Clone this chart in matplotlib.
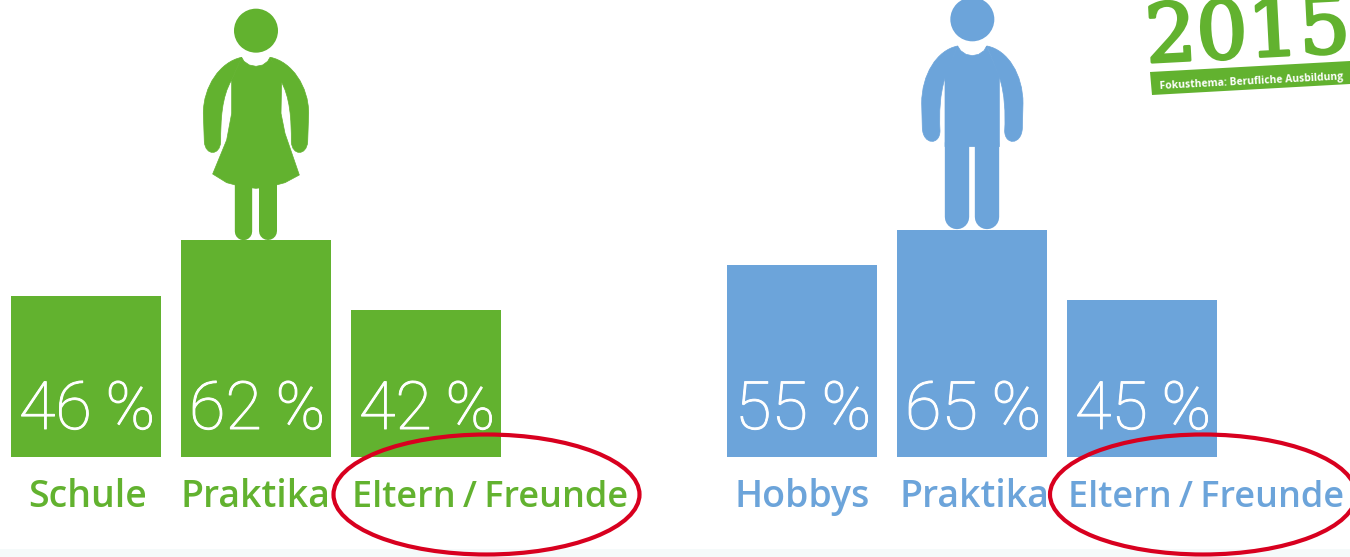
import matplotlib
matplotlib.use("Agg")
import matplotlib.pyplot as plt
import matplotlib.patheffects as pe
from matplotlib.patches import Circle, Ellipse, PathPatch, Polygon, Rectangle
from matplotlib.path import Path

girls_labels = ["Schule", "Praktika", "Eltern\u2009/\u2009Freunde"]
girls_values = [46, 62, 42]
boys_labels = ["Hobbys", "Praktika", "Eltern\u2009/\u2009Freunde"]
boys_values = [55, 65, 45]

GREEN = "#62b22f"
BLUE = "#6ca4da"
RED = "#d8001f"
BAR_W = 150
girls_x = [86, 256, 426]
boys_x = [802, 972, 1142]
girls_label_x = [88, 255, 490]
boys_label_x = [802, 974, 1206]

fig = plt.figure(figsize=(13.5, 5.57), dpi=100)

# bars: y axis in percent, 3.5 px per percent, zero line at pixel row 457
ax = fig.add_axes([0, 0, 1, 1])
ax.set_xlim(0, 1350)
ax.set_ylim(-(557 - 457) / 3.5, 457 / 3.5)
ax.axis("off")

# everything else in pixel coordinates
px = fig.add_axes([0, 0, 1, 1])
px.set_xlim(0, 1350)
px.set_ylim(557, 0)
px.axis("off")
px.patch.set_alpha(0)

px.add_patch(Rectangle((0, 549), 1350, 8, fc="#f5fafa", ec="none", zorder=0))


def draw_group(xs, label_xs, values, labels, color):
    ax.bar(xs, values, width=BAR_W, color=color, linewidth=0)
    for x, v in zip(xs, values):
        ax.text(x + 1, 8, "%d\u2009%%" % v, color="white", fontsize=48, family="Roboto",
                weight="light", ha="center", va="baseline",
                path_effects=[pe.withStroke(linewidth=0.7, foreground="white")])
    for x, label in zip(label_xs, labels):
        size = 26 if len(label) > 10 else 27
        px.text(x, 507, label, color=color, fontsize=size, family="Open Sans",
                weight="semibold", ha="center", va="baseline")


def shape(points, codes, color, ox, oy):
    # coordinates are read at 3x zoom
    verts = [(ox + a / 3, oy + b / 3) for a, b in points]
    px.add_patch(PathPatch(Path(verts, codes), fc=color, ec=color, lw=0.5, zorder=3))


def stroke(points, width, color, ox, oy):
    verts = [(ox + a / 3, oy + b / 3) for a, b in points]
    px.add_patch(PathPatch(Path(verts, [Path.MOVETO, Path.LINETO]), fc="none", ec=color,
                           lw=width / 3 * 0.72, capstyle="round", zorder=3))


def fill(points, color, ox, oy):
    verts = [(ox + a / 3, oy + b / 3) for a, b in points]
    px.add_patch(Polygon(verts, closed=True, fc=color, ec=color, lw=0.5, zorder=3))


ARM = [Path.MOVETO] + [Path.CURVE4] * 3 + [Path.LINETO] + [Path.CURVE4] * 6 + [Path.CLOSEPOLY]


def woman(color):
    ox, oy = 170, 0
    px.add_patch(Circle((ox + 258 / 3, oy + 92 / 3), 22, fc=color, ec="none", zorder=3))
    fill([(215, 172), (222, 184), (238, 195), (258, 199), (278, 195), (293, 184), (300, 172),
          (335, 235), (333, 340), (345, 400), (388, 525), (345, 548), (300, 560), (258, 565),
          (215, 560), (170, 548), (128, 522), (170, 420), (185, 340), (185, 240)],
         color, ox, oy)
    arm = [(215, 172), (150, 185), (100, 260), (100, 340), (103, 425),
           (106, 468), (150, 468), (152, 425), (152, 360), (155, 290), (185, 240), (215, 172)]
    shape(arm, ARM, color, ox, oy)
    shape([(516 - a, b) for a, b in arm], ARM, color, ox, oy)
    stroke([(219, 550), (219, 694)], 52, color, ox, oy)
    stroke([(295, 550), (295, 694)], 54, color, ox, oy)


def man(color):
    ox, oy = 890, 0
    px.add_patch(Circle((ox + 247 / 3, oy + 58 / 3), 22, fc=color, ec="none", zorder=3))
    fill([(203, 138), (212, 152), (228, 163), (247, 167), (266, 163), (282, 152), (290, 138),
          (328, 230), (328, 440), (165, 440), (165, 230)], color, ox, oy)
    arm = [(203, 138), (140, 150), (95, 225), (95, 310), (97, 385),
           (100, 436), (150, 436), (150, 392), (147, 340), (150, 280), (165, 235), (203, 138)]
    shape(arm, ARM, color, ox, oy)
    shape([(494 - a, b) for a, b in arm], ARM, color, ox, oy)
    stroke([(201, 430), (201, 652)], 73, color, ox, oy)
    stroke([(291, 430), (291, 652)], 73, color, ox, oy)


draw_group(girls_x, girls_label_x, girls_values, girls_labels, GREEN)
draw_group(boys_x, boys_label_x, boys_values, boys_labels, BLUE)
woman(GREEN)
man(BLUE)

# red hand-drawn rings
for cx in [486.5, 1203]:
    px.add_patch(Ellipse((cx, 494.5), 306, 120, fc="none", ec=RED, lw=3, zorder=5))

# year badge
px.text(1249, 57, "2015", color=GREEN, fontsize=58, family="DejaVu Serif",
        ha="center", va="baseline", rotation=3, rotation_mode="anchor", zorder=3,
        path_effects=[pe.withStroke(linewidth=2.2, foreground=GREEN)])
px.add_patch(Polygon([(1150, 72), (1350, 61), (1350, 84), (1152, 95)], closed=True,
                     fc=GREEN, ec="none", zorder=3))
px.text(1251, 82, "Fokusthema: Berufliche Ausbildung", color="white", fontsize=7.5,
        family="Open Sans", weight="bold", ha="center", va="center", rotation=3,
        rotation_mode="anchor", zorder=4)

fig.savefig("out.png", dpi=100)
